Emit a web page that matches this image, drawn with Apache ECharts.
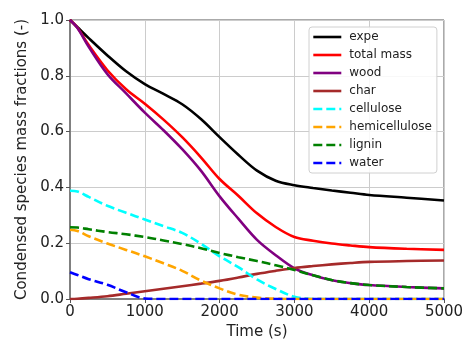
<!DOCTYPE html>
<html>
<head>
<meta charset="utf-8">
<script src="https://cdn.jsdelivr.net/npm/echarts@6/dist/echarts.min.js"></script>
<style>
html,body{margin:0;padding:0;background:#fff;}
#chart{width:470px;height:349px;}
</style>
</head>
<body>
<div id="chart"></div>
<script>
// Shared time grid (s)
const time = [0, 100, 250, 500, 750, 1000, 1250, 1500, 1750, 2000, 2250, 2500, 2750, 3000, 3250, 3500, 3750, 4000, 4500, 5000];

const expe          = [1.0, 0.974, 0.935, 0.873, 0.816, 0.770, 0.735, 0.698, 0.645, 0.580, 0.517, 0.460, 0.424, 0.408, 0.398, 0.389, 0.381, 0.373, 0.363, 0.353];
const totalMass     = [1.0, 0.972, 0.910, 0.820, 0.752, 0.700, 0.643, 0.580, 0.508, 0.430, 0.370, 0.307, 0.258, 0.222, 0.209, 0.199, 0.192, 0.186, 0.180, 0.176];
const wood          = [1.0, 0.971, 0.904, 0.806, 0.737, 0.668, 0.605, 0.537, 0.460, 0.368, 0.288, 0.212, 0.157, 0.110, 0.085, 0.067, 0.057, 0.050, 0.043, 0.038];
const charVal       = [0.0, 0.001, 0.004, 0.010, 0.019, 0.028, 0.037, 0.046, 0.055, 0.065, 0.077, 0.090, 0.101, 0.111, 0.118, 0.124, 0.129, 0.133, 0.136, 0.138];
const cellulose     = [0.388, 0.385, 0.366, 0.334, 0.309, 0.285, 0.261, 0.237, 0.198, 0.153, 0.114, 0.070, 0.036, 0.008, 0.0, 0.0, 0.0, 0.0, 0.0, 0.0];
const hemicellulose = [0.248, 0.244, 0.225, 0.199, 0.176, 0.153, 0.128, 0.101, 0.066, 0.038, 0.015, 0.005, 0.001, 0.0, 0.0, 0.0, 0.0, 0.0, 0.0, 0.0];
const lignin        = [0.257, 0.256, 0.250, 0.240, 0.232, 0.222, 0.210, 0.197, 0.182, 0.165, 0.150, 0.136, 0.121, 0.104, 0.085, 0.068, 0.057, 0.050, 0.043, 0.038];
const water         = [0.096, 0.086, 0.071, 0.051, 0.024, 0.002, 0.0, 0.0, 0.0, 0.0, 0.0, 0.0, 0.0, 0.0, 0.0, 0.0, 0.0, 0.0, 0.0, 0.0];

const xTicks = [0, 1000, 2000, 3000, 4000, 5000];
const yTicks = [0.0, 0.2, 0.4, 0.6, 0.8, 1.0];

const seriesDefs = [
  {name: 'expe', data: expe, color: '#000000', dashed: false},
  {name: 'total mass', data: totalMass, color: '#ff0000', dashed: false},
  {name: 'wood', data: wood, color: '#800080', dashed: false},
  {name: 'char', data: charVal, color: '#a52a2a', dashed: false},
  {name: 'cellulose', data: cellulose, color: '#00ffff', dashed: true},
  {name: 'hemicellulose', data: hemicellulose, color: '#ffa500', dashed: true},
  {name: 'lignin', data: lignin, color: '#008000', dashed: true},
  {name: 'water', data: water, color: '#0000ff', dashed: true}
];

const FONT = 'DejaVu Sans';
const chart = echarts.init(document.getElementById('chart'), null, {renderer: 'canvas'});

chart.setOption({
  animation: false,
  backgroundColor: '#ffffff',
  textStyle: {fontFamily: FONT},
  grid: {left: 70, right: 26, top: 20, bottom: 50, show: true, borderColor: '#555555', borderWidth: 1, backgroundColor: 'transparent'},
  legend: {
    orient: 'vertical',
    left: 309, top: 27,
    itemWidth: 28, itemHeight: 12, itemGap: 6,
    padding: [4, 5, 4, 3],
    backgroundColor: 'rgba(255,255,255,0.85)',
    borderColor: '#d0d0d0', borderWidth: 1, borderRadius: 3,
    itemStyle: {opacity: 0},
    lineStyle: {width: 2.6},
    textStyle: {fontFamily: FONT, fontSize: 12, color: '#222', padding: [0, 0, 0, 3]},
    data: seriesDefs.map(s => s.name)
  },
  xAxis: {
    type: 'value', min: 0, max: 5000, interval: 1000,
    name: 'Time (s)', nameLocation: 'middle', nameGap: 24,
    nameTextStyle: {fontFamily: FONT, fontSize: 15, color: '#222'},
    axisLine: {show: true, lineStyle: {color: '#808080', width: 2}},
    axisTick: {show: true, length: 4, inside: false, lineStyle: {color: '#555'}},
    axisLabel: {fontFamily: FONT, fontSize: 15, color: '#222', margin: 6,
      formatter: v => xTicks.includes(v) ? String(v) : ''},
    splitLine: {show: true, lineStyle: {color: '#cccccc', width: 1}}
  },
  yAxis: {
    type: 'value', min: 0, max: 1, interval: 0.2,
    name: 'Condensed species mass fractions (-)', nameLocation: 'middle', nameGap: 28, nameRotate: 90,
    nameTextStyle: {fontFamily: FONT, fontSize: 15, color: '#222'},
    axisLine: {show: true, lineStyle: {color: '#808080', width: 2}},
    axisTick: {show: true, length: 4, inside: false, lineStyle: {color: '#555'}},
    axisLabel: {fontFamily: FONT, fontSize: 15, color: '#222', margin: 6,
      formatter: v => {
        const t = yTicks.find(y => Math.abs(y - v) < 1e-9);
        return t === undefined ? '' : t.toFixed(1);
      }},
    splitLine: {show: true, lineStyle: {color: '#cccccc', width: 1}}
  },
  series: seriesDefs.map(s => ({
    name: s.name,
    type: 'line',
    data: time.map((t, i) => [t, s.data[i]]),
    smooth: 0.35,
    symbol: 'none',
    showSymbol: false,
    color: s.color,
    lineStyle: {color: s.color, width: 2.6, type: s.dashed ? [9, 4] : 'solid', cap: 'butt'},
    emphasis: {disabled: true}
  }))
});
</script>
</body>
</html>
